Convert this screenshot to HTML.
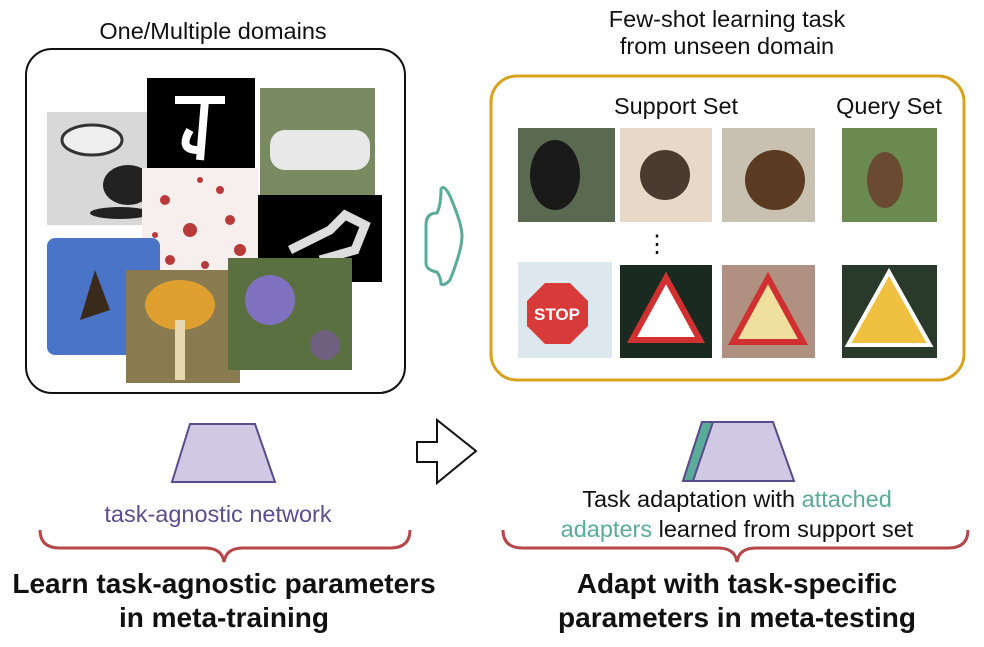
<!DOCTYPE html>
<html><head><meta charset="utf-8"><style>
body{margin:0;background:#fff;}
svg text{font-family:"Liberation Sans",Arial,sans-serif;}
</style></head><body>
<svg width="984" height="642" viewBox="0 0 984 642" xmlns="http://www.w3.org/2000/svg">
<rect width="984" height="642" fill="#fff"/>
<text x="213" y="39" font-size="23.5" text-anchor="middle" fill="#111">One/Multiple domains</text>
<rect x="26" y="49" width="379" height="344" rx="26" fill="#fff" stroke="#111" stroke-width="2"/>
<rect x="47" y="112" width="108" height="113" fill="#d8d8d8"/>
<ellipse cx="92" cy="140" rx="30" ry="15" fill="#eee" stroke="#333" stroke-width="3"/>
<ellipse cx="128" cy="185" rx="25" ry="20" fill="#222"/>
<ellipse cx="120" cy="213" rx="30" ry="6" fill="#222"/>
<rect x="260" y="88" width="115" height="112" fill="#7a8a60"/>
<rect x="270" y="130" width="100" height="40" rx="15" fill="#e8e8e8"/>
<rect x="147" y="78" width="108" height="92" fill="#000"/>
<path d="M175 100 L225 100 M205 100 L200 160 M190 130 Q178 150 198 150" stroke="#fff" stroke-width="8" fill="none"/>
<rect x="142" y="168" width="116" height="112" fill="#f7eeee"/>
<g fill="#b83a3a"><circle cx="165" cy="200" r="5"/><circle cx="190" cy="230" r="7"/><circle cx="220" cy="190" r="4"/><circle cx="240" cy="250" r="6"/><circle cx="170" cy="260" r="5"/><circle cx="205" cy="265" r="4"/><circle cx="230" cy="220" r="5"/><circle cx="155" cy="235" r="3"/><circle cx="200" cy="180" r="3"/></g>
<rect x="258" y="195" width="124" height="87" fill="#000"/>
<path d="M290 250 L330 230 L345 215 L365 225 L355 250 L320 260" stroke="#ddd" stroke-width="9" fill="none"/>
<rect x="47" y="238" width="113" height="117" rx="8" fill="#4a74c8"/>
<path d="M80 320 L95 270 L110 310 Z" fill="#3a2a1a"/>
<rect x="126" y="270" width="114" height="113" fill="#8a7a50"/>
<ellipse cx="180" cy="305" rx="35" ry="25" fill="#e0a030"/>
<rect x="175" y="320" width="10" height="60" fill="#e8d8b0"/>
<rect x="228" y="258" width="124" height="112" fill="#5a7040"/>
<circle cx="270" cy="300" r="25" fill="#8070c0"/>
<circle cx="325" cy="345" r="15" fill="#706080"/>
<path d="M441 189 Q441 205 437 213 Q426 213 426 225 L426 263 Q426 270 437 272 Q441 278 441 284 Q445 286 450 280 Q462 250 462 236 Q462 224 450 196 Q444 184 441 189 Z" fill="none" stroke="#5aab9a" stroke-width="3"/>
<path d="M417 442 L437 442 L437 420 L476 451 L437 483 L437 462 L417 462 Z" fill="#fff" stroke="#111" stroke-width="2"/>
<text x="727" y="27" font-size="23.5" text-anchor="middle" fill="#111">Few-shot learning task</text>
<text x="727" y="54" font-size="23.5" text-anchor="middle" fill="#111">from unseen domain</text>
<rect x="491" y="76" width="473" height="304" rx="26" fill="#fff" stroke="#d9a21e" stroke-width="3"/>
<text x="676" y="114" font-size="23.5" text-anchor="middle" fill="#111">Support Set</text>
<text x="889" y="114" font-size="23.5" text-anchor="middle" fill="#111">Query Set</text>
<rect x="518" y="128" width="97" height="94" fill="#5a6a50"/><ellipse cx="555" cy="175" rx="25" ry="35" fill="#1a1a1a"/>
<rect x="620" y="128" width="92" height="94" fill="#e8d8c8"/><ellipse cx="665" cy="175" rx="25" ry="25" fill="#4a3a30"/>
<rect x="722" y="128" width="93" height="94" fill="#c8c0b0"/><ellipse cx="775" cy="180" rx="30" ry="30" fill="#5a3a20"/>
<rect x="842" y="128" width="95" height="94" fill="#6a8a50"/><ellipse cx="885" cy="180" rx="18" ry="28" fill="#6a4a30"/>
<text x="657" y="252" font-size="24" text-anchor="middle" fill="#111">⋮</text>
<rect x="518" y="262" width="94" height="96" fill="#dde8ee"/><polygon points="545,283 570,283 588,301 588,326 570,344 545,344 527,326 527,301" fill="#d83a3a"/><text x="557" y="320" font-size="17" font-weight="bold" text-anchor="middle" fill="#fff">STOP</text>
<rect x="620" y="265" width="92" height="93" fill="#1a2a20"/><polygon points="666,278 700,340 632,340" fill="#fff" stroke="#d03030" stroke-width="6"/>
<rect x="722" y="265" width="93" height="93" fill="#b09080"/><polygon points="768,278 803,342 733,342" fill="#f0e0a0" stroke="#d03030" stroke-width="6"/>
<rect x="842" y="265" width="95" height="93" fill="#2a3a2a"/><polygon points="889,272 930,345 848,345" fill="#f0c040" stroke="#fff" stroke-width="4"/>
<polygon points="190,424 255,424 275,482 172,482" fill="#cfc9e3" stroke="#5a4c8a" stroke-width="2"/>
<polygon points="702,422 773,422 794,481 683,481" fill="#cfc9e3" stroke="#5a4c8a" stroke-width="2"/>
<polygon points="702,422 713,422 693,481 683,481" fill="#5aab9a" stroke="#5a4c8a" stroke-width="2"/>
<text x="218" y="522" font-size="23.5" text-anchor="middle" fill="#5b4e8c">task-agnostic network</text>
<text x="737" y="507" font-size="23.5" text-anchor="middle" fill="#111">Task adaptation with <tspan fill="#5aab9a">attached</tspan></text>
<text x="737" y="537" font-size="23.5" text-anchor="middle" fill="#111"><tspan fill="#5aab9a">adapters</tspan> learned from support set</text>
<path d="M40 530 Q40 548 60 548 L205 548 Q222 548 224 562 Q226 548 243 548 L390 548 Q410 548 410 530" fill="none" stroke="#b5474a" stroke-width="3"/>
<path d="M503 530 Q503 548 523 548 L718 548 Q735 548 737 562 Q739 548 756 548 L948 548 Q968 548 968 530" fill="none" stroke="#b5474a" stroke-width="3"/>
<text x="224" y="593" font-size="28" font-weight="bold" text-anchor="middle" fill="#111">Learn task-agnostic parameters</text>
<text x="224" y="627" font-size="28" font-weight="bold" text-anchor="middle" fill="#111">in meta-training</text>
<text x="737" y="593" font-size="28" font-weight="bold" text-anchor="middle" fill="#111">Adapt with task-specific</text>
<text x="737" y="627" font-size="28" font-weight="bold" text-anchor="middle" fill="#111">parameters in meta-testing</text>
</svg>
</body></html>
